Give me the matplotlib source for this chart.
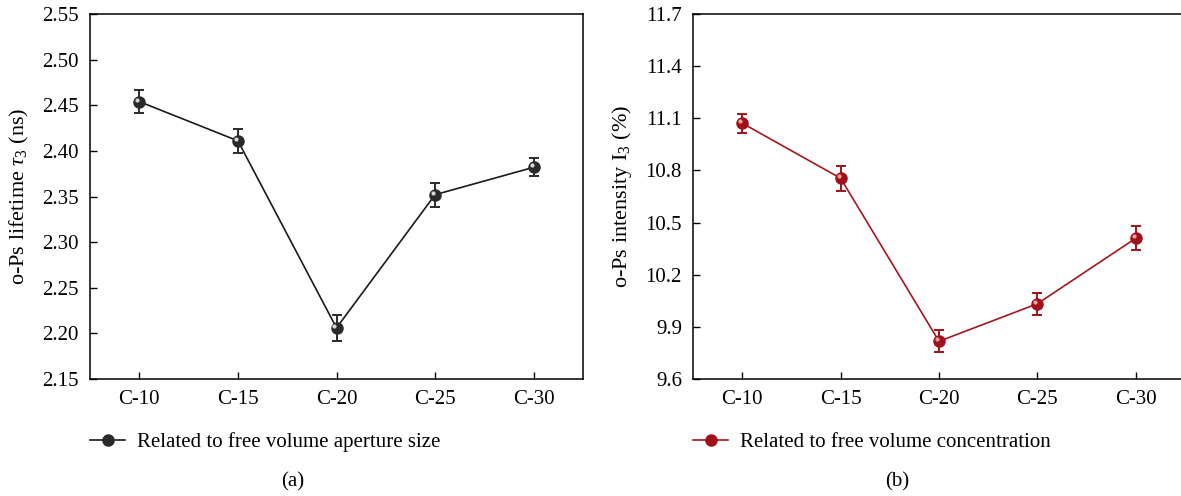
import numpy as np
import matplotlib
matplotlib.use("Agg")
import matplotlib.pyplot as plt
from matplotlib.lines import Line2D
from matplotlib.transforms import offset_copy

plt.rcParams['font.family'] = ['Liberation Serif', 'DejaVu Serif']
plt.rcParams['mathtext.fontset'] = 'custom'
plt.rcParams['mathtext.rm'] = 'Liberation Serif'
plt.rcParams['mathtext.it'] = 'Liberation Serif:italic'

# data
samples = ["C-10", "C-15", "C-20", "C-25", "C-30"]
lifetime = [2.454, 2.411, 2.206, 2.352, 2.382]
lifetime_err = [0.013, 0.013, 0.014, 0.013, 0.010]
intensity = [11.072, 10.755, 9.817, 10.033, 10.410]
intensity_err = [0.054, 0.071, 0.064, 0.064, 0.070]

fig = plt.figure(figsize=(11.81, 4.96), dpi=100)
ax1 = fig.add_axes([90 / 1181, 1 - 379 / 496, 493 / 1181, 365 / 496])
ax2 = fig.add_axes([693 / 1181, 1 - 379 / 496, 492 / 1181, 365 / 496])


def draw_panel(ax, y, err, line_col, ball_col, shine_col, label):
    x = np.arange(len(samples))
    ax.errorbar(x, y, yerr=err, color=line_col, ecolor=ball_col, lw=1.2,
                elinewidth=1.4, capsize=3.5, capthick=1.4, marker='o',
                markersize=8, markerfacecolor=ball_col, markeredgecolor=ball_col,
                zorder=3)
    # small highlight to get the shaded-ball look
    tr = offset_copy(ax.transData, fig=fig, x=-1.5, y=1.5, units='points')
    ax.plot(x, y, 'o', ms=3, color=shine_col, mec='none', transform=tr, zorder=4)
    ax.set_xticks(x)
    ax.set_xticklabels(samples)
    ax.set_xlim(-0.5, 4.5)
    ax.tick_params(direction='in', length=5, width=1, labelsize=15, pad=8,
                   top=False, right=False)
    for s in ax.spines.values():
        s.set_linewidth(1.1)
    handle = Line2D([], [], color=line_col, lw=1.2, marker='o', ms=8,
                    mfc=ball_col, mec=ball_col)
    ax.legend([handle], [label], loc='center left', bbox_to_anchor=(0, -0.173),
              frameon=False, fontsize=15, handlelength=1.7, handletextpad=0.55,
              borderpad=0, borderaxespad=0)


draw_panel(ax1, lifetime, lifetime_err, '#1a1a1a', '#2a2a2a', '#d8d8d8',
           "Related to free volume aperture size")
ax1.set_ylim(2.15, 2.55)
ax1.set_yticks(np.arange(2.15, 2.551, 0.05))
ax1.set_yticklabels([f"{v:.2f}" for v in np.arange(2.15, 2.551, 0.05)])
ax1.set_ylabel(r"o-Ps lifetime $\tau_3$ (ns)", fontsize=16, labelpad=8)

draw_panel(ax2, intensity, intensity_err, '#a4161c', '#a0111a', '#f2a0a0',
           "Related to free volume concentration")
ax2.set_ylim(9.6, 11.7)
ax2.set_yticks(np.arange(9.6, 11.71, 0.3))
ax2.set_yticklabels([f"{v:.1f}" for v in np.arange(9.6, 11.71, 0.3)])
ax2.set_ylabel(r"o-Ps intensity $\mathrm{I}_3$ (%)", fontsize=16, labelpad=8)

fig.text(293 / 1181, 1 - 482 / 496, "(a)", ha='center', va='center', fontsize=15)
fig.text(897 / 1181, 1 - 482 / 496, "(b)", ha='center', va='center', fontsize=15)

fig.savefig("out.png", dpi=100)
